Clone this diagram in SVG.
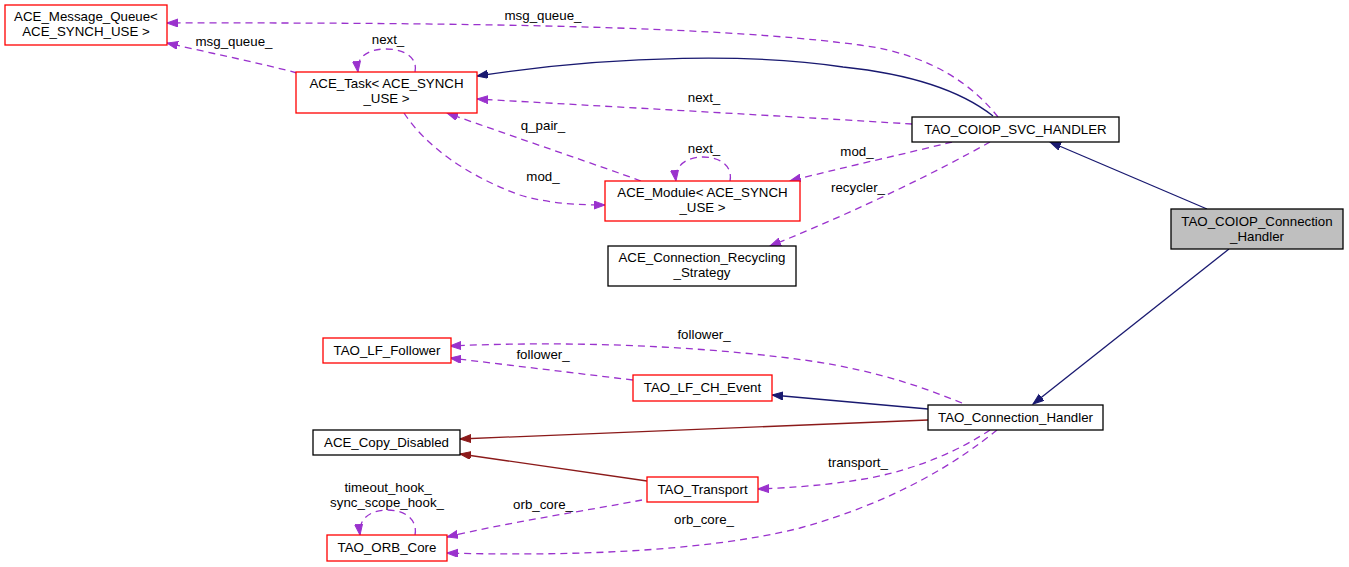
<svg xmlns="http://www.w3.org/2000/svg" width="1349" height="567" viewBox="0 0 1349 567">
<style>
text{font-family:"Liberation Sans",Arial,sans-serif;font-size:13.3px;fill:#000;text-anchor:middle}
.n rect{fill:#fff;stroke:#000;stroke-width:1.3}
.n.r rect{stroke:#ff0000}
.n.g rect{fill:#bfbfbf}
.e{fill:none;stroke-width:1.3}
.nv{stroke:#191970;marker-end:url(#an)}
.fb{stroke:#8b1a1a;marker-end:url(#af)}
.dp{stroke:#9a32cd;stroke-dasharray:7,5;marker-end:url(#ap)}
</style>
<defs>
<marker id="an" markerUnits="userSpaceOnUse" markerWidth="12" markerHeight="10" refX="11" refY="4" orient="auto"><path d="M0,0 L11,4 L0,8 z" fill="#191970" stroke="#191970"/></marker>
<marker id="af" markerUnits="userSpaceOnUse" markerWidth="12" markerHeight="10" refX="11" refY="4" orient="auto"><path d="M0,0 L11,4 L0,8 z" fill="#8b1a1a" stroke="#8b1a1a"/></marker>
<marker id="ap" markerUnits="userSpaceOnUse" markerWidth="12" markerHeight="10" refX="11" refY="4" orient="auto"><path d="M0,0 L11,4 L0,8 z" fill="#9a32cd" stroke="#9a32cd"/></marker>
</defs>
<rect width="1349" height="567" fill="#fff"/>
<g id="connectors">
<path class="e nv" d="M993,116 C960,90 910,74 843,67 C760,54 620,54 477,76"/>
<path class="e dp" d="M998,117 C975,88 935,55 860,45 C760,32 600,22 167,23"/>
<path class="e dp" d="M297,73 C260,63 210,53 167,43"/>
<path class="e dp" d="M415,72 C418,58 405,49 386,49 C368,49 356,57 358,72"/>
<path class="e dp" d="M912,124 C800,117 600,106 477,99"/>
<path class="e dp" d="M641,181 C600,166 520,139 447,113"/>
<path class="e dp" d="M404,113 C425,145 465,175 520,195 C550,204 580,205 605,205"/>
<path class="e dp" d="M730,181 C733,166 720,157 703,157 C686,157 674,166 676,181"/>
<path class="e dp" d="M952,142 C900,155 840,168 790,181"/>
<path class="e dp" d="M990,142 C940,170 860,210 770,246"/>
<path class="e nv" d="M1207,209 L1050,142"/>
<path class="e nv" d="M1229,249 L1033,404"/>
<path class="e nv" d="M928,409 L772,395"/>
<path class="e fb" d="M928,420 L460,439"/>
<path class="e fb" d="M647,481 L460,454"/>
<path class="e dp" d="M962,403 C910,382 860,366 780,357 C680,345 560,341 450,346"/>
<path class="e dp" d="M633,380 L450,358"/>
<path class="e dp" d="M990,430 C960,450 920,468 870,478 C830,485 790,488 758,489"/>
<path class="e dp" d="M997,430 C960,460 900,500 800,528 C700,553 560,556 447,553"/>
<path class="e dp" d="M642,500 C590,510 510,522 447,537"/>
<path class="e dp" d="M415,535 C418,520 405,510 388,510 C370,510 358,519 360,535"/>
<text x="543" y="20">msg_queue_</text>
<text x="234" y="46">msg_queue_</text>
<text x="388" y="44">next_</text>
<text x="704" y="102">next_</text>
<text x="543" y="130">q_pair_</text>
<text x="543" y="181">mod_</text>
<text x="704" y="153">next_</text>
<text x="857" y="156">mod_</text>
<text x="858" y="192">recycler_</text>
<text x="704" y="339">follower_</text>
<text x="543" y="359">follower_</text>
<text x="858" y="467">transport_</text>
<text x="704" y="524">orb_core_</text>
<text x="543" y="509">orb_core_</text>
<text x="388" y="492">timeout_hook_</text>
<text x="387" y="507">sync_scope_hook_</text>
</g>
<g id="n_mq" class="n r"><rect x="5" y="5" width="162" height="40"/><text x="86" y="21">ACE_Message_Queue&lt;</text><text x="86" y="36">ACE_SYNCH_USE &gt;</text></g>
<g id="n_task" class="n r"><rect x="296" y="72" width="181" height="41"/><text x="386.5" y="88">ACE_Task&lt; ACE_SYNCH</text><text x="386.5" y="103">_USE &gt;</text></g>
<g id="n_module" class="n r"><rect x="605" y="181" width="195" height="40"/><text x="702.5" y="197">ACE_Module&lt; ACE_SYNCH</text><text x="702.5" y="212">_USE &gt;</text></g>
<g id="n_recycling" class="n"><rect x="608" y="246" width="188" height="40"/><text x="702" y="262">ACE_Connection_Recycling</text><text x="702" y="277">_Strategy</text></g>
<g id="n_svc" class="n"><rect x="912" y="117" width="207" height="25"/><text x="1015.5" y="133.5">TAO_COIOP_SVC_HANDLER</text></g>
<g id="n_coiop_ch" class="n g"><rect x="1171" y="209" width="172" height="40"/><text x="1257" y="225.5">TAO_COIOP_Connection</text><text x="1257" y="240.5">_Handler</text></g>
<g id="n_lf_follower" class="n r"><rect x="323" y="338" width="128" height="25"/><text x="387" y="354.5">TAO_LF_Follower</text></g>
<g id="n_lf_ch_event" class="n r"><rect x="633" y="375" width="139" height="26"/><text x="702.5" y="392">TAO_LF_CH_Event</text></g>
<g id="n_copy_disabled" class="n"><rect x="313" y="430" width="147" height="25"/><text x="386.5" y="446.5">ACE_Copy_Disabled</text></g>
<g id="n_conn_handler" class="n"><rect x="928" y="405" width="175" height="25"/><text x="1015.5" y="421.5">TAO_Connection_Handler</text></g>
<g id="n_transport" class="n r"><rect x="647" y="477" width="111" height="25"/><text x="702.5" y="493.5">TAO_Transport</text></g>
<g id="n_orb_core" class="n r"><rect x="327" y="535" width="120" height="26"/><text x="387" y="552">TAO_ORB_Core</text></g>
</svg>
